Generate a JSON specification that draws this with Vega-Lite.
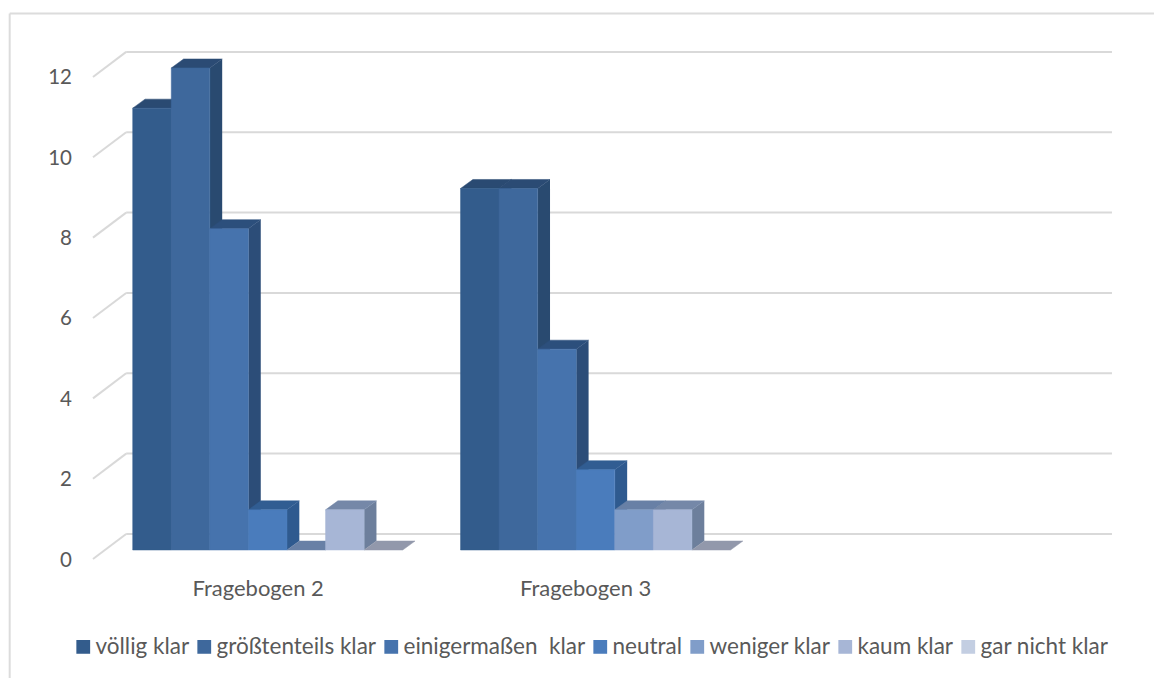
{
  "$schema": "https://vega.github.io/schema/vega-lite/v6.json",
  "width": 1154,
  "height": 678,
  "padding": 0,
  "autosize": "none",
  "background": "white",
  "config": {
    "view": {"stroke": null},
    "font": "Lato",
    "axis": {"labelFont": "Lato", "labelColor": "#595959"}
  },
  "datasets": {
    "antworten": [
      {"fragebogen": "Fragebogen 2", "antwort": "völlig klar", "anzahl": 11},
      {"fragebogen": "Fragebogen 2", "antwort": "größtenteils klar", "anzahl": 12},
      {"fragebogen": "Fragebogen 2", "antwort": "einigermaßen\u00a0 klar", "anzahl": 8},
      {"fragebogen": "Fragebogen 2", "antwort": "neutral", "anzahl": 1},
      {"fragebogen": "Fragebogen 2", "antwort": "weniger klar", "anzahl": 0},
      {"fragebogen": "Fragebogen 2", "antwort": "kaum klar", "anzahl": 1},
      {"fragebogen": "Fragebogen 2", "antwort": "gar nicht klar", "anzahl": 0},
      {"fragebogen": "Fragebogen 3", "antwort": "völlig klar", "anzahl": 9},
      {"fragebogen": "Fragebogen 3", "antwort": "größtenteils klar", "anzahl": 9},
      {"fragebogen": "Fragebogen 3", "antwort": "einigermaßen\u00a0 klar", "anzahl": 5},
      {"fragebogen": "Fragebogen 3", "antwort": "neutral", "anzahl": 2},
      {"fragebogen": "Fragebogen 3", "antwort": "weniger klar", "anzahl": 1},
      {"fragebogen": "Fragebogen 3", "antwort": "kaum klar", "anzahl": 1},
      {"fragebogen": "Fragebogen 3", "antwort": "gar nicht klar", "anzahl": 0}
    ],
    "stufen": [
      {"stufe": 0}, {"stufe": 2}, {"stufe": 4}, {"stufe": 6}, {"stufe": 8}, {"stufe": 10}, {"stufe": 12}
    ]
  },
  "layer": [
    {
      "description": "Outer frame of the chart area, left edge; also carries both axes",
      "data": {"values": [{"kante": "links"}]},
      "mark": {"type": "rule", "color": "#dcdcdc", "strokeWidth": 2},
      "encoding": {
        "x": {
          "datum": -3.19,
          "type": "quantitative",
          "scale": {"domain": [-3.441, 26.48], "nice": false, "zero": false},
          "axis": {
            "orient": "bottom",
            "values": [3.24, 11.73],
            "labelExpr": "datum.value < 7 ? 'Fragebogen 2' : 'Fragebogen 3'",
            "domain": false,
            "ticks": false,
            "grid": false,
            "title": null,
            "labelPadding": 0,
            "labelBaseline": "top",
            "labelFlush": false,
            "labelOverlap": false,
            "labelFontSize": 22,
            "offset": -100
          }
        },
        "y": {
          "datum": 13.355,
          "type": "quantitative",
          "scale": {"domain": [-3.186, 13.692], "nice": false, "zero": false},
          "axis": {
            "orient": "left",
            "values": [0, 2, 4, 6, 8, 10, 12],
            "domain": false,
            "ticks": false,
            "grid": false,
            "title": null,
            "labelPadding": 0,
            "labelOffset": 10,
            "labelOverlap": false,
            "labelFontSize": 20.5,
            "offset": -71.5
          }
        },
        "y2": {"datum": -3.186}
      }
    },
    {
      "data": {"values": [{"kante": "oben"}]},
      "mark": {"type": "rule", "color": "#dcdcdc", "strokeWidth": 2},
      "encoding": {
        "x": {"datum": -3.19, "type": "quantitative", "scale": {"domain": [-3.441, 26.48], "nice": false, "zero": false}},
        "x2": {"datum": 26.48},
        "y": {"datum": 13.355, "type": "quantitative", "scale": {"domain": [-3.186, 13.692], "nice": false, "zero": false}}
      }
    },
    {
      "description": "Back-wall gridlines, lifted by the depth of the 3D projection",
      "data": {"name": "stufen"},
      "transform": [{"calculate": "datum.stufe + 0.4", "as": "wand"}],
      "mark": {"type": "rule", "color": "#d9d9d9", "strokeWidth": 2},
      "encoding": {
        "x": {"datum": -0.17, "type": "quantitative", "scale": {"domain": [-3.441, 26.48], "nice": false, "zero": false}},
        "x2": {"datum": 25.39},
        "y": {"field": "wand", "type": "quantitative", "scale": {"domain": [-3.186, 13.692], "nice": false, "zero": false}}
      }
    },
    {
      "description": "Side-wall gridlines running from the axis labels to the back wall",
      "data": {"name": "stufen"},
      "transform": [
        {"calculate": "datum.stufe + 0.4", "as": "wand"},
        {"calculate": "datum.stufe - 0.224", "as": "vorn"}
      ],
      "mark": {"type": "rule", "color": "#d9d9d9", "strokeWidth": 2},
      "encoding": {
        "x": {"datum": -1.03, "type": "quantitative", "scale": {"domain": [-3.441, 26.48], "nice": false, "zero": false}},
        "x2": {"datum": -0.17},
        "y": {"field": "vorn", "type": "quantitative", "scale": {"domain": [-3.186, 13.692], "nice": false, "zero": false}},
        "y2": {"field": "wand"}
      }
    },
    {
      "description": "Extruded columns: side faces, then top faces, then front faces",
      "data": {"name": "antworten"},
      "transform": [
        {"calculate": "indexof(['völlig klar','größtenteils klar','einigermaßen\u00a0 klar','neutral','weniger klar','kaum klar','gar nicht klar'], datum.antwort) + (datum.fragebogen === 'Fragebogen 2' ? 0 : 8.5)", "as": "links"},
        {"calculate": "datum.links + 1", "as": "rechts"},
        {"calculate": "[0, 1]", "as": "tiefe"},
        {"flatten": ["tiefe"]},
        {"calculate": "datum.tiefe * 0.32", "as": "versatzX"},
        {"calculate": "datum.tiefe * 0.224", "as": "versatzY"},
        {"calculate": "datum.rechts + datum.versatzX", "as": "seiteX"},
        {"calculate": "datum.links + datum.versatzX", "as": "deckelX"},
        {"calculate": "datum.anzahl + datum.versatzY", "as": "oben"}
      ],
      "layer": [
        {
          "mark": {"type": "area", "orient": "vertical", "strokeWidth": 0.5},
          "encoding": {
            "x": {"field": "seiteX", "type": "quantitative", "scale": {"domain": [-3.441, 26.48], "nice": false, "zero": false}},
            "y": {"field": "oben", "type": "quantitative", "stack": null, "scale": {"domain": [-3.186, 13.692], "nice": false, "zero": false}},
            "y2": {"field": "versatzY"},
            "color": {
              "field": "antwort",
              "type": "nominal",
              "legend": null,
              "scale": {
                "domain": ["völlig klar", "größtenteils klar", "einigermaßen\u00a0 klar", "neutral", "weniger klar", "kaum klar", "gar nicht klar"],
                "range": ["#2a4a72", "#294a70", "#2c4d78", "#2f5a8f", "#5d7296", "#6d7f9c", "#8a93a8"]
              }
            },
            "detail": {"field": "fragebogen", "type": "nominal"}
          }
        },
        {
          "mark": {"type": "area", "orient": "horizontal", "strokeWidth": 0.5},
          "encoding": {
            "y": {"field": "oben", "type": "quantitative", "scale": {"domain": [-3.186, 13.692], "nice": false, "zero": false}},
            "x": {"field": "deckelX", "type": "quantitative", "stack": null, "scale": {"domain": [-3.441, 26.48], "nice": false, "zero": false}},
            "x2": {"field": "seiteX"},
            "color": {
              "field": "antwort",
              "type": "nominal",
              "legend": null,
              "scale": {
                "domain": ["völlig klar", "größtenteils klar", "einigermaßen\u00a0 klar", "neutral", "weniger klar", "kaum klar", "gar nicht klar"],
                "range": ["#2a4a72", "#2b4b74", "#2c4f7c", "#315d92", "#6880a6", "#7588a8", "#9298ab"]
              }
            },
            "stroke": {
              "field": "antwort",
              "type": "nominal",
              "legend": null,
              "scale": {
                "domain": ["völlig klar", "größtenteils klar", "einigermaßen\u00a0 klar", "neutral", "weniger klar", "kaum klar", "gar nicht klar"],
                "range": ["#2a4a72", "#2b4b74", "#2c4f7c", "#315d92", "#6880a6", "#7588a8", "#9298ab"]
              }
            },
            "detail": {"field": "fragebogen", "type": "nominal"}
          }
        },
        {
          "transform": [{"filter": "datum.tiefe === 0"}],
          "mark": {"type": "rect", "strokeWidth": 0.5},
          "encoding": {
            "x": {"field": "links", "type": "quantitative", "scale": {"domain": [-3.441, 26.48], "nice": false, "zero": false}},
            "x2": {"field": "rechts"},
            "y": {"field": "anzahl", "type": "quantitative", "scale": {"domain": [-3.186, 13.692], "nice": false, "zero": false}},
            "y2": {"datum": 0},
            "color": {
              "field": "antwort",
              "type": "nominal",
              "scale": {
                "domain": ["völlig klar", "größtenteils klar", "einigermaßen\u00a0 klar", "neutral", "weniger klar", "kaum klar", "gar nicht klar"],
                "range": ["#335c8c", "#3e689c", "#4673ad", "#4a7cbc", "#809dc9", "#a7b6d6", "#c3cee2"]
              },
              "legend": {
                "orient": "none",
                "legendX": 72,
                "legendY": 635.5,
                "direction": "horizontal",
                "columns": 7,
                "title": null,
                "symbolType": "square",
                "symbolSize": 190,
                "symbolStrokeWidth": 0,
                "labelFont": "Lato",
                "labelFontSize": 22.5,
                "labelColor": "#595959",
                "labelOffset": 1,
                "labelLimit": 300,
                "columnPadding": 3
              }
            },
            "stroke": {
              "condition": {
                "test": "datum.anzahl > 0",
                "field": "antwort",
                "type": "nominal",
                "legend": null,
                "scale": {
                  "domain": ["völlig klar", "größtenteils klar", "einigermaßen\u00a0 klar", "neutral", "weniger klar", "kaum klar", "gar nicht klar"],
                  "range": ["#335c8c", "#3e689c", "#4673ad", "#4a7cbc", "#809dc9", "#a7b6d6", "#c3cee2"]
                }
              },
              "value": null
            }
          }
        }
      ],
      "resolve": {"scale": {"color": "independent", "stroke": "independent"}}
    }
  ]
}
